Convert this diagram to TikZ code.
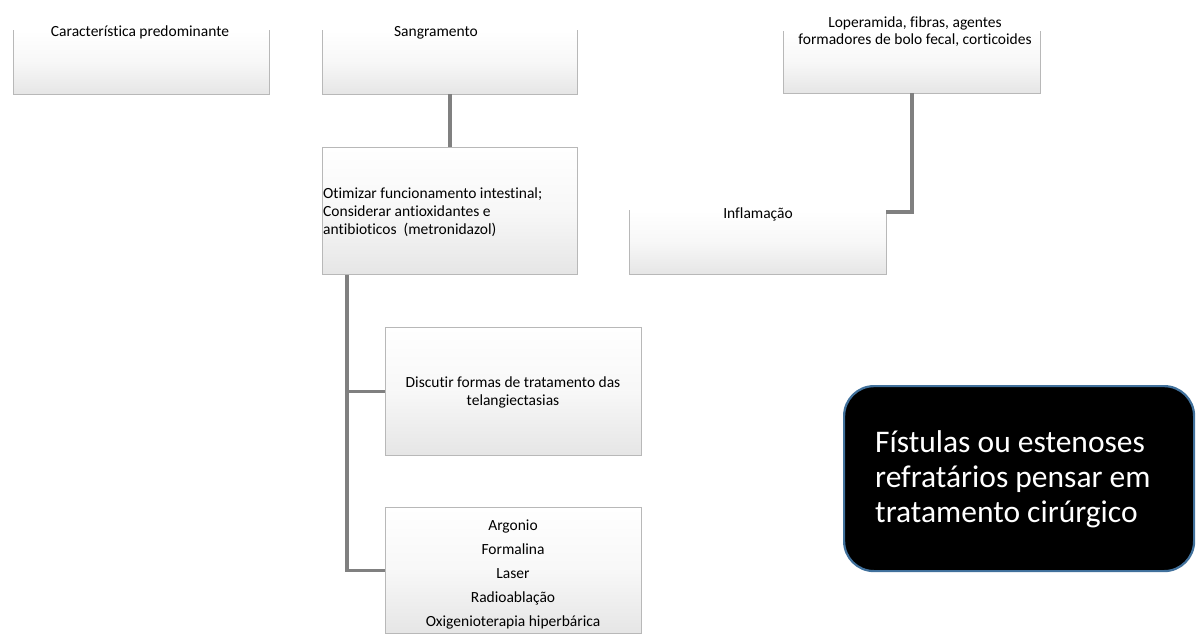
\documentclass[tikz,border=0pt]{standalone}
\usepackage{fontspec}
\setmainfont{Carlito}[Ligatures=NoCommon]
\begin{document}
\begin{tikzpicture}[x=1pt,y=-1pt,
  boxfill/.style={rectangle, inner sep=0pt, anchor=north west, draw=none,
    top color=white, bottom color=black!10, middle color=white!97!black},
  boxline/.style={draw=black!28, line width=0.9pt},
  txt/.style={inner sep=0pt, font=\fontsize{15.5}{18}\selectfont, text=black},
  conn/.style={draw=black!50, line width=3.6pt},
  darkbox/.style={rectangle, rounded corners=30pt, fill=black, draw=cdarkblue,
    line width=2.2pt, anchor=north west, inner sep=0pt}
]
\definecolor{cdarkblue}{HTML}{41719C}
\useasboundingbox (0,0) rectangle (1198,633);
\clip (0,0) rectangle (1198,633);

% top row boxes (no top border)
\node[boxfill, minimum width=256pt, minimum height=64pt] (b1) at (13,30) {};
\draw[boxline] (b1.north west) -- (b1.south west) -- (b1.south east) -- (b1.north east);
\node[txt, anchor=base] (t1) at (140,36) {Característica predominante};

\node[boxfill, minimum width=255pt, minimum height=64pt] (b2) at (322,30) {};
\draw[boxline] (b2.north west) -- (b2.south west) -- (b2.south east) -- (b2.north east);
\node[txt, anchor=base] (t2) at (436,36) {Sangramento};

\node[boxfill, minimum width=257pt, minimum height=62pt] (b3) at (783,31) {};
\draw[boxline] (b3.north west) -- (b3.south west) -- (b3.south east) -- (b3.north east);
\node[txt, anchor=base, align=center, font=\fontsize{15.5}{17}\selectfont] (t3) at (915,44)
  {Loperamida, fibras, agentes\\formadores de bolo fecal, corticoides};

\node[boxfill, minimum width=257pt, minimum height=64pt] (b4) at (629,210) {};
\draw[boxline] (b4.north west) -- (b4.south west) -- (b4.south east) -- (b4.north east);
\node[txt, anchor=base] (t4) at (758,218) {Inflamação};

% full boxes
\node[boxfill, boxline, minimum width=255pt, minimum height=127pt] (b5) at (322,147) {};
\node[txt, anchor=base west, align=left] (t5) at (323,234)
  {Otimizar funcionamento intestinal;\\Considerar antioxidantes e\\antibioticos~~(metronidazol)};

\node[boxfill, boxline, minimum width=256pt, minimum height=128pt] (b6) at (385,327) {};
\node[txt, anchor=base, align=center] (t6) at (513,405)
  {Discutir formas de tratamento das\\telangiectasias};

\node[boxfill, boxline, minimum width=256pt, minimum height=126pt] (b7) at (385,507) {};
\node[txt, anchor=base, align=center, font=\fontsize{15.5}{24}\selectfont] (t7) at (513,626)
  {Argonio\\Formalina\\Laser\\Radioablação\\Oxigenioterapia hiperbárica};

% black box
\node[darkbox, minimum width=350pt, minimum height=185pt] (b8) at (843,385) {};
\node[inner sep=0pt, anchor=base west, align=left, text=white,
  font=\fontsize{31.5}{35}\selectfont] (t8) at (875,522)
  {Fístulas ou estenoses\\refratários pensar em\\tratamento cirúrgico};

% connectors
\draw[conn] (b2.south -| 450,0) -- (b5.north -| 450,0);
\draw[conn] (b3.south -| 912,0) |- (b4.east |- 0,212);
\coordinate (trunk) at (b5.south -| 347,0);
\draw[conn] (trunk) |- (b6.west);
\draw[conn] (trunk) |- (b7.west);
\end{tikzpicture}
\end{document}
